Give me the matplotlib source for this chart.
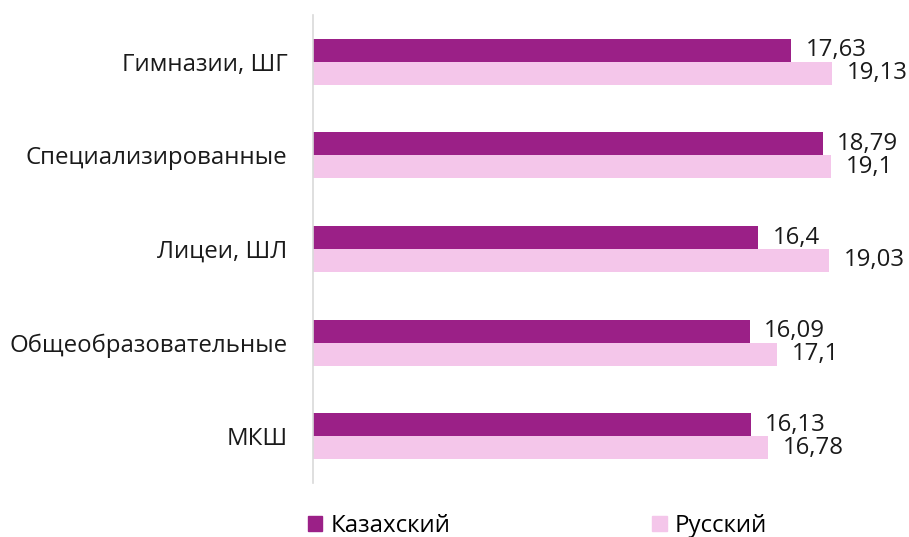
import numpy as np
import matplotlib
matplotlib.use('Agg')
import matplotlib.pyplot as plt
from matplotlib.patches import Patch

plt.rcParams['font.family'] = ['Open Sans', 'DejaVu Sans']

categories = ['Гимназии, ШГ', 'Специализированные', 'Лицеи, ШЛ',
              'Общеобразовательные', 'МКШ']
kazakh = [17.63, 18.79, 16.4, 16.09, 16.13]
russian = [19.13, 19.1, 19.03, 17.1, 16.78]
series_names = ['Казахский', 'Русский']

c_kaz = '#9B2087'
c_rus = '#F4C6EA'
fs = 17.3

W, H = 909, 537
fig = plt.figure(figsize=(W / 100, H / 100), dpi=100)
ax = fig.add_axes([313 / W, (H - 483) / H, 567 / W, 468 / H])

y = np.arange(len(categories))
h = 0.245
b1 = ax.barh(y - h / 2, kazakh, height=h, color=c_kaz)
b2 = ax.barh(y + h / 2, russian, height=h, color=c_rus)

fmt = lambda v: ('%g' % v).replace('.', ',')
ax.bar_label(b1, labels=[fmt(v) for v in kazakh], padding=10.5, fontsize=fs, color='#1a1a1a')
ax.bar_label(b2, labels=[fmt(v) for v in russian], padding=10.5, fontsize=fs, color='#1a1a1a')

ax.set_ylim(len(categories) - 0.5, -0.5)
ax.set_xlim(0, 567 / 27.13)
ax.set_yticks(y)
ax.set_yticklabels(categories, fontsize=fs, color='#1a1a1a')
ax.tick_params(axis='y', length=0, pad=18.5)
ax.set_xticks([])
for s in ['top', 'right', 'bottom']:
    ax.spines[s].set_visible(False)
ax.spines['left'].set_color('#D9D9D9')
ax.spines['left'].set_linewidth(1.2)

handles = [Patch(color=c_kaz), Patch(color=c_rus)]
fig.legend(handles, series_names, loc='center left', bbox_to_anchor=(308 / W, 1 - 526 / H),
           ncol=2, frameon=False, fontsize=fs, handlelength=0.6, handleheight=0.6,
           handletextpad=0.33, columnspacing=8.4, borderaxespad=0, borderpad=0)

fig.savefig('out.png', dpi=100)
